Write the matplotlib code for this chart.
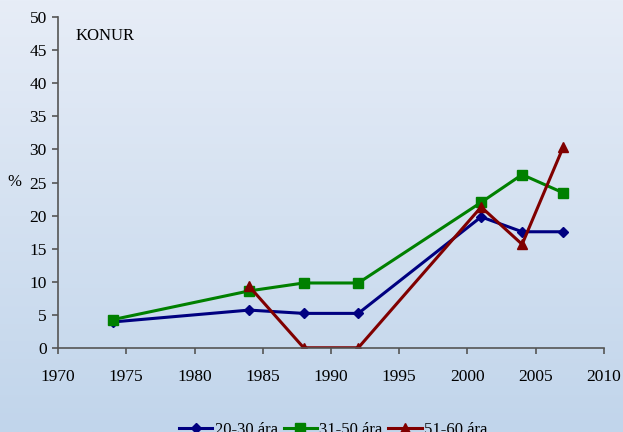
import numpy as np
import matplotlib
matplotlib.use("Agg")
import matplotlib.pyplot as plt
from matplotlib.colors import LinearSegmentedColormap

years_a = [1974, 1984, 1988, 1992, 2001, 2004, 2007]
vals_20_30 = [3.9, 5.7, 5.2, 5.2, 19.8, 17.55, 17.55]
vals_31_50 = [4.25, 8.6, 9.8, 9.8, 22.0, 26.2, 23.45]
years_b = [1984, 1988, 1992, 2001, 2004, 2007]
vals_51_60 = [9.3, 0.0, 0.0, 21.3, 15.65, 30.3]
labels = ["20-30 ára", "31-50 ára", "51-60 ára"]
xticks = [1970, 1975, 1980, 1985, 1990, 1995, 2000, 2005, 2010]
yticks = [0, 5, 10, 15, 20, 25, 30, 35, 40, 45, 50]

plt.rcParams['font.family'] = ['Liberation Serif', 'DejaVu Serif']

fig = plt.figure(figsize=(6.23, 4.32), dpi=100)

# gradient background
bg = fig.add_axes([0, 0, 1, 1], zorder=-10)
cmap = LinearSegmentedColormap.from_list("bg", ["#e7edf7", "#c1d5eb"])
grad = np.linspace(0, 1, 256).reshape(-1, 1)
bg.imshow(grad, aspect='auto', cmap=cmap, extent=[0, 1, 0, 1], origin='upper')
bg.axis('off')

ax = fig.add_axes([0.0931, 0.195, 0.8764, 0.765])
ax.patch.set_alpha(0)

ax.plot(years_a, vals_20_30, color='#000080', lw=2.2, marker='D', ms=5, label=labels[0])
ax.plot(years_a, vals_31_50, color='#008000', lw=2.2, marker='s', ms=7, label=labels[1])
ax.plot(years_b, vals_51_60, color='#800000', lw=2.2, marker='^', ms=7.5, label=labels[2])

ax.set_xlim(1970, 2010)
ax.set_ylim(0, 50)
ax.set_xticks(xticks)
ax.set_yticks(yticks)
for s in ['top', 'right']:
    ax.spines[s].set_visible(False)
for s in ['left', 'bottom']:
    ax.spines[s].set_color('#555555')
    ax.spines[s].set_linewidth(1.2)
ax.tick_params(axis='both', direction='out', length=4, width=1.2, color='#555555',
               labelsize=12.5, labelcolor='black')
ax.tick_params(axis='x', pad=11)
ax.tick_params(axis='y', pad=4)

fig.text(14 / 623, 1 - 182 / 432, "%", ha='center', va='center', fontsize=12)
ax.text(1971.25, 47.1, "KONUR", ha='left', va='center', fontsize=12)

fig.legend(loc='center', bbox_to_anchor=(0.535, 0.005), ncol=3, frameon=False,
           fontsize=12, handlelength=2.0, handletextpad=0.15, columnspacing=0.35,
           borderaxespad=0)

fig.savefig("out.png", dpi=100)
